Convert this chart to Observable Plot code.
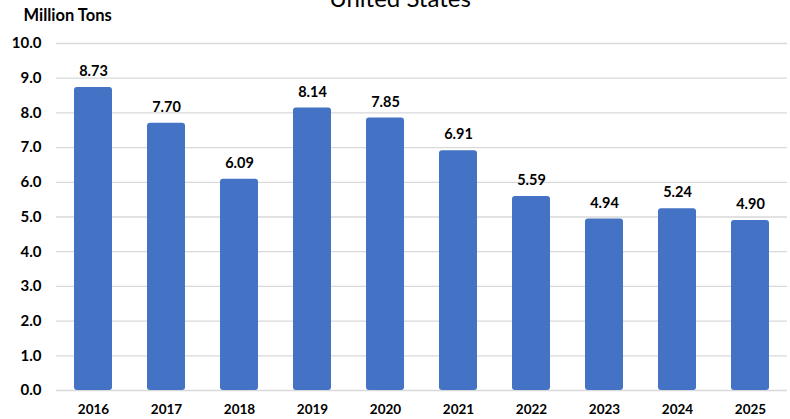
<!DOCTYPE html>
<html><head><meta charset="utf-8">
<script src="https://cdn.jsdelivr.net/npm/d3@7"></script>
<script src="https://cdn.jsdelivr.net/npm/@observablehq/plot@0.6"></script>
<style>
body{margin:0;background:#fff;}
#chart{position:relative;width:790px;height:419px;overflow:hidden;}
</style></head>
<body><div id="chart"></div>
<script>
const years = ["2016","2017","2018","2019","2020","2021","2022","2023","2024","2025"];
const values = [8.73,7.70,6.09,8.14,7.85,6.91,5.59,4.94,5.24,4.90];
const yTicks = [0,1,2,3,4,5,6,7,8,9,10];
const title = "United States";
const unitLabel = "Million Tons";

const data = years.map((y,i)=>({year:y, value:values[i]}));
const font = "Lato, 'Open Sans', sans-serif";

const plot = Plot.plot({
  width: 790, height: 419,
  marginTop: 43, marginBottom: 29, marginLeft: 56, marginRight: 3,
  style: {fontFamily: font, fontSize: "13px", fontWeight: "bold", color: "#000", background: "#fff"},
  x: {domain: years, paddingInner: 0.48, paddingOuter: 0.24, label: null},
  y: {domain: [0,10], ticks: yTicks, label: null},
  marks: [
    Plot.gridY(yTicks, {stroke: "#d9d9d9", strokeOpacity: 1, strokeWidth: 1.3}),
    Plot.axisY(yTicks, {tickFormat: d => d.toFixed(1), tickSize: 0, tickPadding: 15, fontSize: 15, fontWeight: "bold", label: null}),
    Plot.axisX({tickSize: 0, tickPadding: 14, fontSize: 13.5, fontWeight: "bold", label: null}),
    Plot.barY(data, {x: "year", y: "value", fill: "#4472C4", rx: 3}),
    Plot.text(data, {x: "year", y: "value", text: d => d.value.toFixed(2), dy: -16, fontSize: 14.5, fontWeight: "bold", fill: "#000"}),
    Plot.text([title], {frameAnchor: "top", dx: -22, dy: -37, lineAnchor: "bottom", fontSize: 24, fontWeight: "normal", fill: "#000", fontFamily: font}),
    Plot.text([unitLabel], {frameAnchor: "top-left", dx: -33, dy: -28, textAnchor: "start", lineAnchor: "middle", fontSize: 16.5, fontWeight: "bold", fill: "#000"})
  ]
});
document.getElementById("chart").appendChild(plot);
</script></body></html>
